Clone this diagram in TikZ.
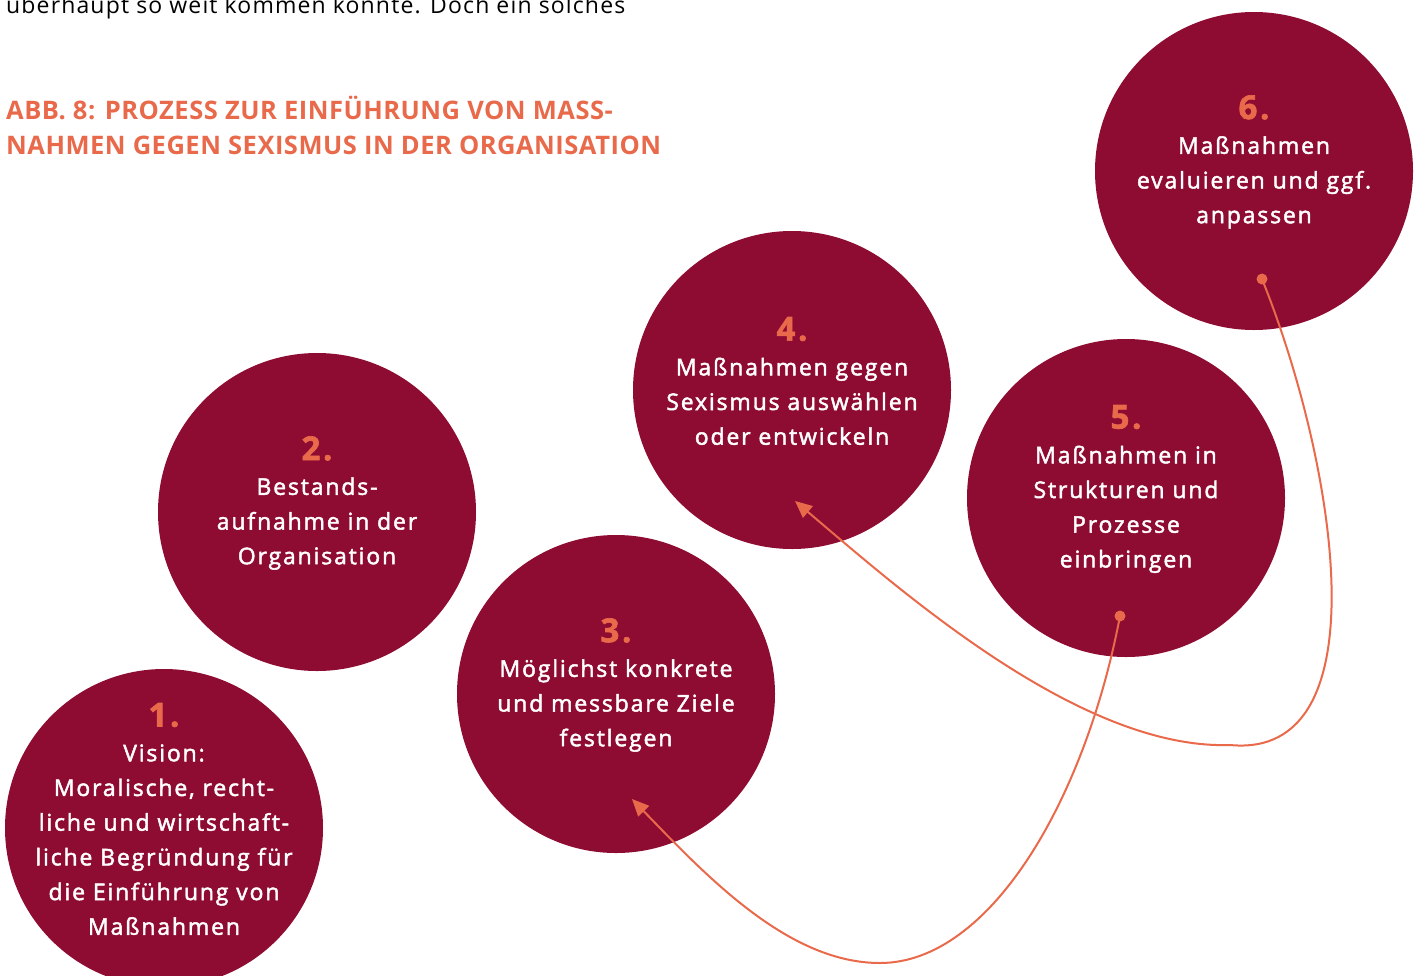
\documentclass[tikz,border=0pt]{standalone}
\usepackage{fontspec}
\setmainfont{Open Sans}
\newfontfamily\circfont[LetterSpace=8, FakeBold=2]{Open Sans}
\newfontfamily\introfont[LetterSpace=5]{Open Sans}
\newfontfamily\titlefont[LetterSpace=2]{Open Sans}
\usetikzlibrary{arrows.meta}
\definecolor{wine}{HTML}{8E0B32}
\definecolor{coral}{HTML}{E9694B}
\newcommand\stepnum[1]{{\fontsize{33}{34.7}\selectfont\bfseries\color{coral}#1}}
\begin{document}
\begin{tikzpicture}[x=1pt,y=-1pt,
  stepcircle/.style={circle, fill=wine, minimum size=318pt, inner sep=0pt},
  steptext/.style={text=white, align=center, inner sep=0pt, font=\circfont\fontsize{23}{34.7}\selectfont},
  flow/.style={draw=coral, line width=2pt, -{Triangle[length=17pt,width=15pt]}},
  dotmark/.style={fill=coral}]
\useasboundingbox (0,0) rectangle (1419,975);
\node[anchor=base west, inner sep=0pt, text=black, font=\introfont\fontsize{23}{30}\selectfont] (intro) at (6,13) {überhaupt so weit kommen konnte. Doch ein solches};
\node[anchor=north west, inner sep=0pt, text=coral, align=left, font=\titlefont\fontsize{25.5}{35}\selectfont\bfseries] (title) at (6,96) {ABB. 8: PROZESS ZUR EINFÜHRUNG VON MASS-\\NAHMEN GEGEN SEXISMUS IN DER ORGANISATION};

\node[stepcircle] (s1) at (164,828) {};
\node[stepcircle] (s2) at (317,512) {};
\node[stepcircle] (s3) at (616,694) {};
\node[stepcircle] (s4) at (792,390) {};
\node[stepcircle] (s5) at (1126,498) {};
\node[stepcircle] (s6) at (1254,171) {};

\node[steptext] (t1) at ([yshift=9]s1.center) {\stepnum{1.}\\Vision:\\Moralische, recht-\\liche und wirtschaft-\\liche Begründung für\\die Einführung von\\Maßnahmen};
\node[steptext] (t2) at ([yshift=9]s2.center) {\stepnum{2.}\\Bestands-\\aufnahme in der\\Organisation};
\node[steptext] (t3) at ([yshift=9]s3.center) {\stepnum{3.}\\Möglichst konkrete\\und messbare Ziele\\festlegen};
\node[steptext] (t4) at ([yshift=9]s4.center) {\stepnum{4.}\\Maßnahmen gegen\\Sexismus auswählen\\oder entwickeln};
\node[steptext] (t5) at ([yshift=9]s5.center) {\stepnum{5.}\\Maßnahmen in\\Strukturen und\\Prozesse\\einbringen};
\node[steptext] (t6) at ([yshift=9]s6.center) {\stepnum{6.}\\Maßnahmen\\evaluieren und ggf.\\anpassen};

\coordinate (d5) at (1120,616);
\coordinate (a3) at (632,799);
\coordinate (d6) at (1262,279);
\coordinate (a4) at (795,501);
\fill[dotmark] (d5) circle (5.5pt);
\fill[dotmark] (d6) circle (5.5pt);
\draw[flow] (d5) .. controls (1085,800) and (990,963) .. (880,963) .. controls (790,963) and (710,880) .. (a3);
\draw[flow] (d6) .. controls (1335,460) and (1385,760) .. (1230,745) .. controls (1080,750) and (900,590) .. (a4);
\end{tikzpicture}
\end{document}
